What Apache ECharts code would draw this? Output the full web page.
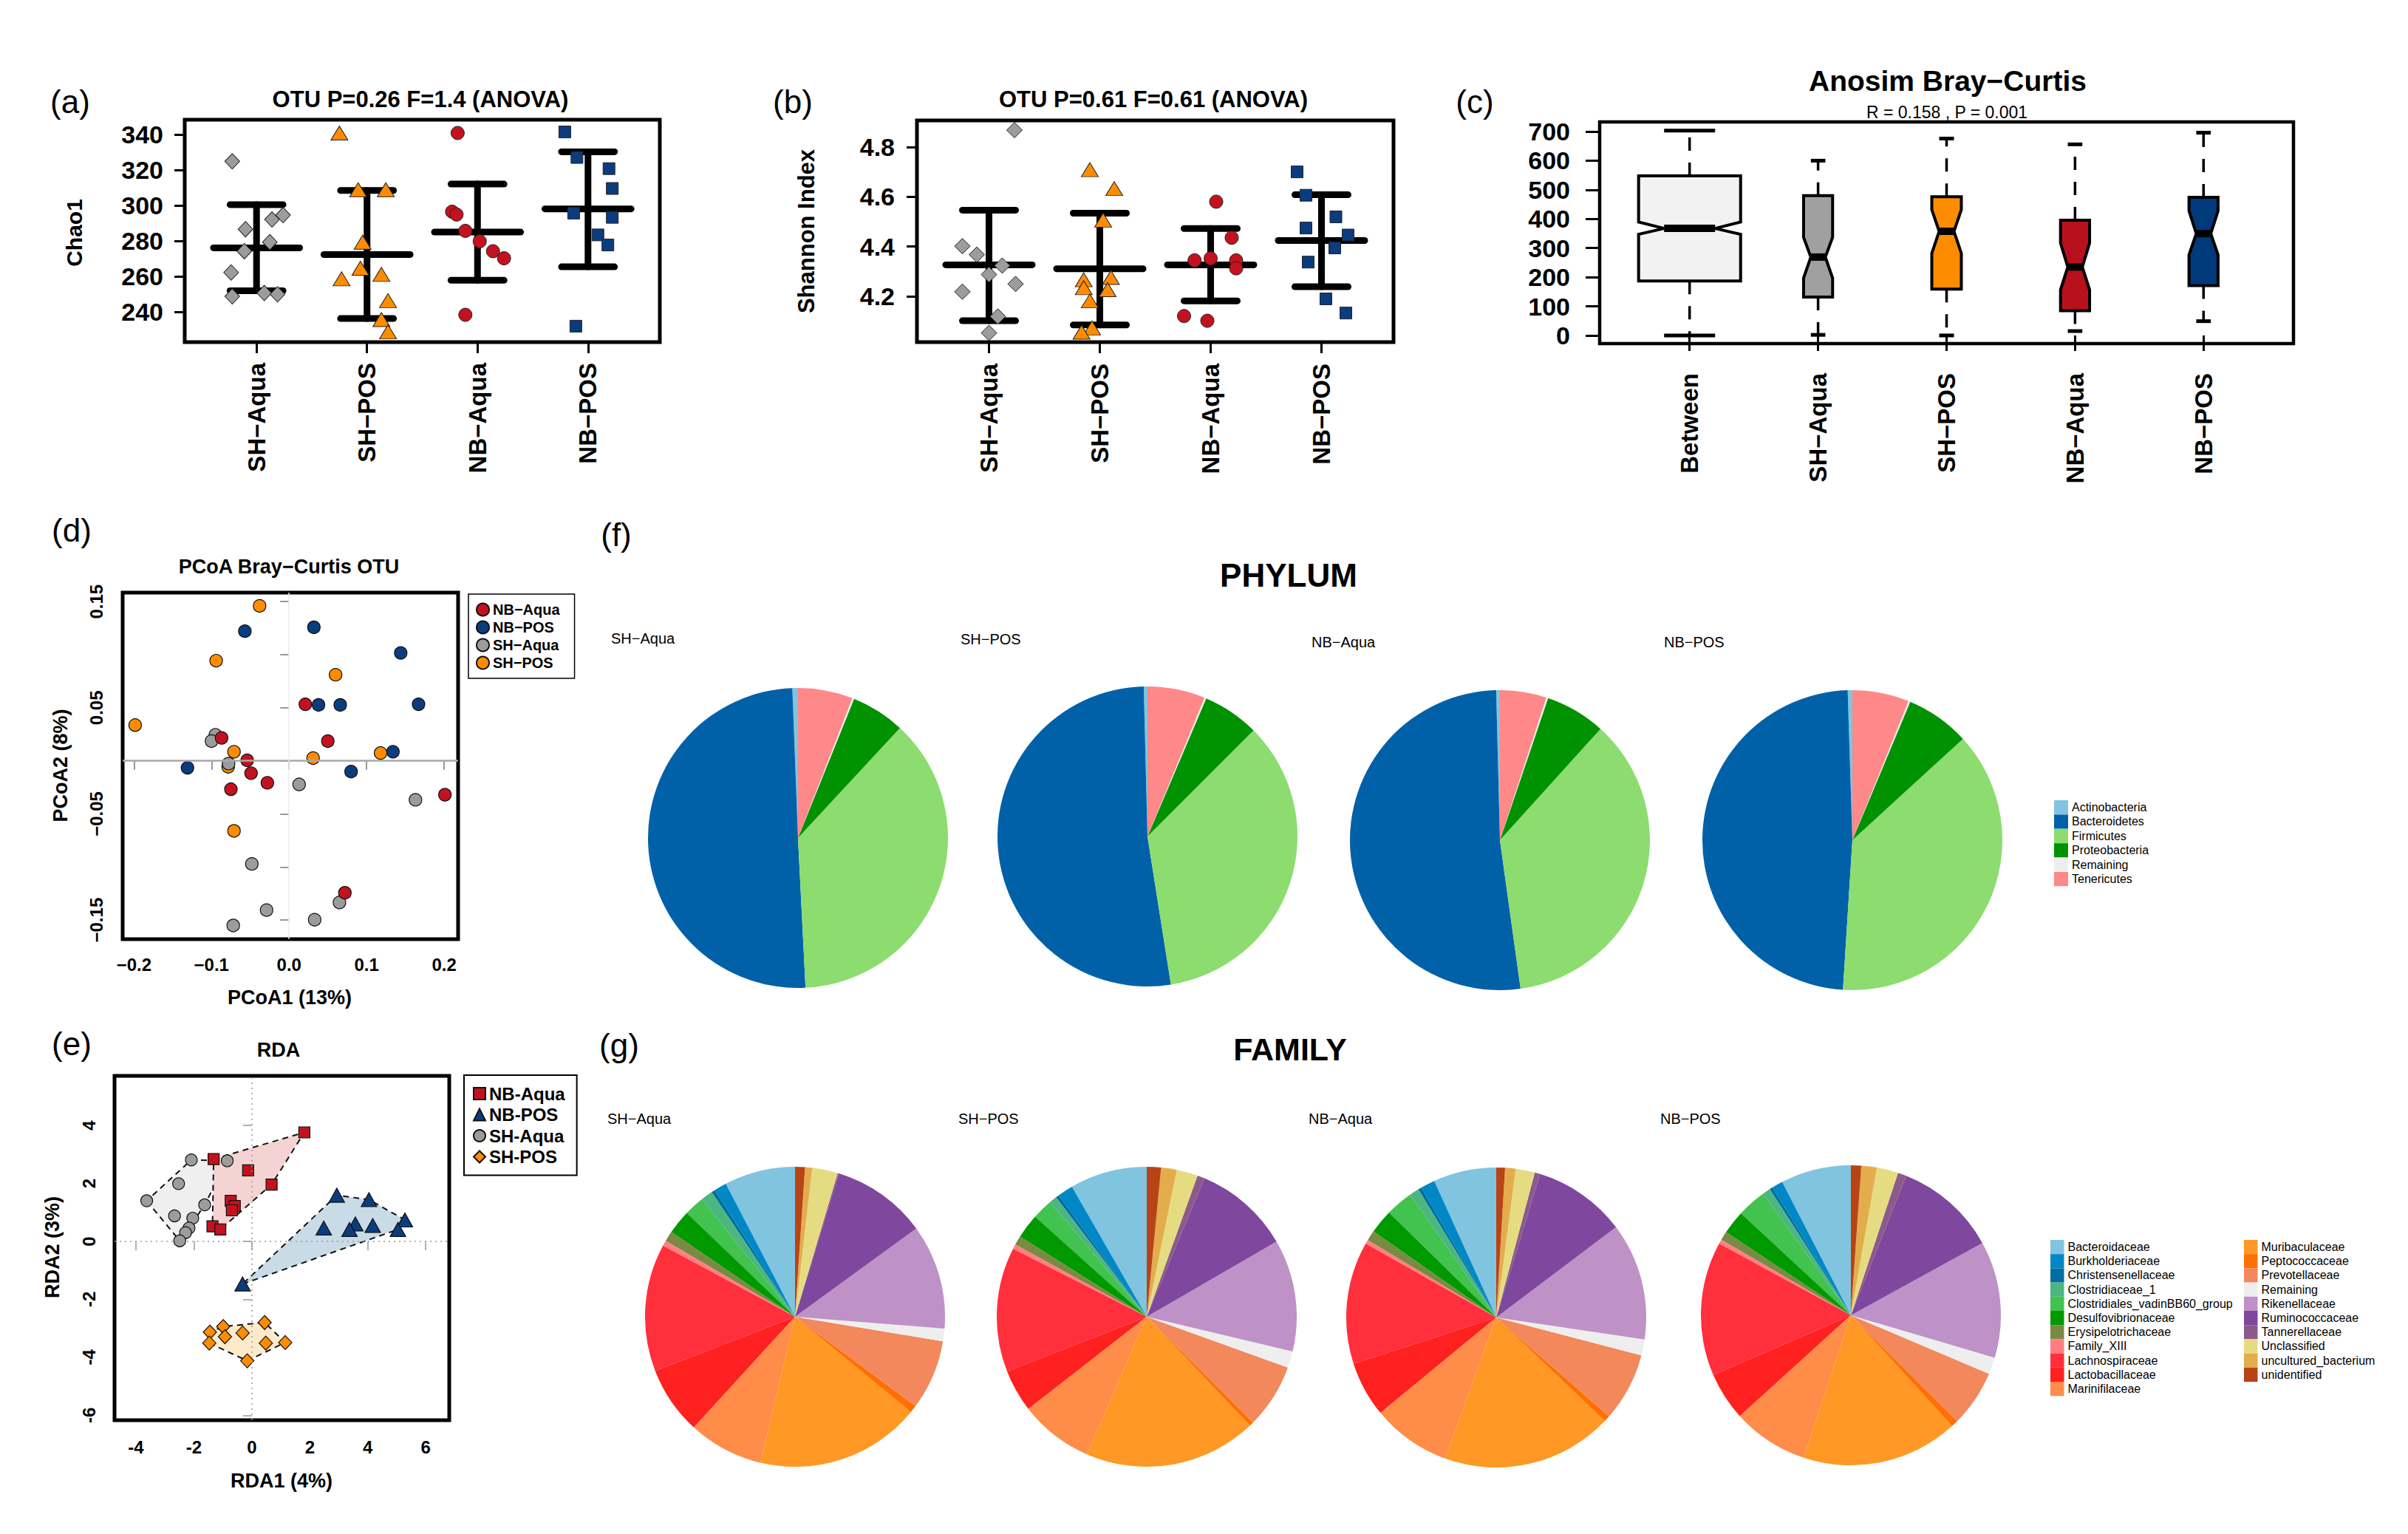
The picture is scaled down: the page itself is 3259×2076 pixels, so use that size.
<!DOCTYPE html>
<html>
<head>
<meta charset="utf-8">
<script src="https://cdn.jsdelivr.net/npm/echarts@6/dist/echarts.min.js"></script>
<style>html,body{margin:0;padding:0;background:#fff}#c{width:3259px;height:2076px}</style>
</head>
<body>
<div id="c"></div>
<script>
// ---------------- DATA ----------------
const groups = ['SH−Aqua', 'SH−POS', 'NB−Aqua', 'NB−POS'];

// (a) Chao1: [jitter offset from group position, value]
const chaoSHAqua = [[-0.22,325.0],[0.24,294.7],[0.14,292.2],[-0.10,286.7],[0.12,279.4],[-0.11,274.3],[-0.23,262.3],[-0.22,248.8],[0.07,250.7],[0.19,250.0]];
const chaoSHPOS  = [[-0.25,341.0],[-0.08,309.0],[0.17,309.0],[-0.04,279.4],[-0.06,264.7],[0.13,261.2],[-0.23,258.7],[0.19,246.4],[0.13,235.7],[0.19,228.8]];
const chaoNBAqua = [[-0.18,341.0],[-0.23,296.6],[-0.19,295.0],[-0.11,285.8],[0.02,279.9],[0.14,274.3],[0.24,270.3],[-0.11,238.4]];
const chaoNBPOS  = [[-0.21,341.6],[-0.10,327.2],[0.19,320.9],[0.22,309.7],[-0.13,295.8],[0.22,293.4],[0.09,283.5],[0.18,277.8],[-0.11,232.0]];
const chaoMean  = [276.2, 272.4, 285.1, 298.2];
const chaoLower = [252.0, 236.3, 257.9, 265.5];
const chaoUpper = [300.6, 308.6, 312.2, 330.4];
const chaoTicks = [240, 260, 280, 300, 320, 340];

// (b) Shannon
const shanSHAqua = [[0.23,4.868],[-0.24,4.401],[-0.11,4.367],[0.12,4.323],[0.0,4.287],[0.24,4.249],[-0.24,4.218],[0.08,4.118],[0.0,4.052]];
const shanSHPOS  = [[-0.09,4.709],[0.13,4.633],[0.03,4.506],[-0.145,4.266],[0.10,4.275],[-0.145,4.234],[0.07,4.226],[-0.09,4.181],[-0.07,4.072],[-0.165,4.055]];
const shanNBAqua = [[0.05,4.580],[0.19,4.435],[-0.145,4.344],[0.0,4.352],[0.23,4.344],[0.23,4.312],[-0.24,4.120],[-0.03,4.101]];
const shanNBPOS  = [[-0.22,4.700],[-0.14,4.606],[0.13,4.519],[-0.14,4.474],[0.24,4.446],[0.12,4.394],[-0.12,4.337],[0.04,4.189],[0.22,4.132]];
const shanMean  = [4.326, 4.310, 4.326, 4.424];
const shanLower = [4.101, 4.084, 4.181, 4.238];
const shanUpper = [4.546, 4.534, 4.472, 4.608];
const shanTicks = [4.2, 4.4, 4.6, 4.8];

// (c) ANOSIM notched boxplots
const anosimGroups  = ['Between', 'SH−Aqua', 'SH−POS', 'NB−Aqua', 'NB−POS'];
const anosimLow     = [0, 2, 0, 15, 49];
const anosimQ1      = [187, 132, 159, 85, 171];
const anosimMedian  = [367.5, 269, 357.5, 235, 349.5];
const anosimQ3      = [548, 480, 476, 395.5, 474];
const anosimHigh    = [703, 600, 676, 656, 696];
const anosimNotchLo = [347.5, 197, 282, 157, 277];
const anosimNotchHi = [389.5, 337, 432, 317, 427.6];
const anosimTicks   = [0, 100, 200, 300, 400, 500, 600, 700];

// (d) PCoA Bray-Curtis
const pcoaNBAqua = [[0.021,0.0533],[0.050,0.0186],[-0.087,0.0216],[-0.054,0.0005],[-0.049,-0.0116],[-0.028,-0.0207],[-0.075,-0.0267],[0.201,-0.0319],[0.072,-0.1243]];
const pcoaNBPOS  = [[-0.057,0.1222],[0.032,0.1258],[0.144,0.1017],[0.038,0.0527],[0.066,0.0527],[0.167,0.0533],[0.134,0.0086],[-0.131,-0.0065],[0.080,-0.0101]];
const pcoaSHAqua = [[-0.095,0.0246],[-0.100,0.0186],[-0.078,-0.0026],[0.013,-0.0222],[0.163,-0.0367],[-0.048,-0.0971],[0.065,-0.1334],[-0.029,-0.1406],[0.033,-0.1497],[-0.072,-0.1551]];
const pcoaSHPOS  = [[-0.038,0.146],[-0.094,0.0944],[0.060,0.0811],[-0.1985,0.0337],[-0.071,0.0086],[-0.0785,-0.0056],[0.031,0.0026],[0.118,0.0074],[-0.071,-0.066]];
const pcoaXTicks = [-0.2, -0.1, 0, 0.1, 0.2];
const pcoaYTicks = [-0.15, -0.1, -0.05, 0, 0.05, 0.1, 0.15];
const pcoaYLabels = [-0.15, -0.05, 0.05, 0.15];

// (e) RDA
const rdaNBAqua = [[1.81,3.76],[-1.32,2.84],[-0.13,2.45],[0.68,1.96],[-0.73,1.40],[-0.59,1.22],[-0.69,1.07],[-1.36,0.52],[-1.09,0.41]];
const rdaNBPOS  = [[2.93,1.59],[4.04,1.44],[5.28,0.74],[2.48,0.46],[3.57,0.60],[3.37,0.41],[4.17,0.55],[5.04,0.41],[-0.32,-1.47]];
const rdaSHAqua = [[-2.09,2.81],[-0.85,2.78],[-2.53,1.99],[-3.63,1.40],[-1.63,1.26],[-2.67,0.88],[-2.04,0.80],[-2.17,0.46],[-2.29,0.30],[-2.49,0.02]];
const rdaSHPOS  = [[0.44,-2.80],[-0.99,-2.94],[-1.45,-3.13],[-0.32,-3.16],[-0.93,-3.29],[-1.47,-3.51],[0.48,-3.51],[1.15,-3.49],[-0.16,-4.12]];
const rdaXTicks = [-4, -2, 0, 2, 4, 6];
const rdaYTicks = [-6, -4, -2, 0, 2, 4];

// (f) Phylum composition (%), order: alphabetical
const phylumNames  = ['Actinobacteria', 'Bacteroidetes', 'Firmicutes', 'Proteobacteria', 'Remaining', 'Tenericutes'];
const phylumSHAqua = [0.6, 50.2, 37.3, 5.8, 0.2, 5.9];
const phylumSHPOS  = [0.4, 52.1, 35.0, 6.1, 0.2, 6.2];
const phylumNBAqua = [0.4, 51.8, 36.1, 6.5, 0.2, 5.0];
const phylumNBPOS  = [0.5, 48.5, 37.8, 6.9, 0.2, 6.1];

// (g) Family composition (%)
const familyNames = ['Bacteroidaceae','Burkholderiaceae','Christensenellaceae','Clostridiaceae_1','Clostridiales_vadinBB60_group','Desulfovibrionaceae','Erysipelotrichaceae','Family_XIII','Lachnospiraceae','Lactobacillaceae','Marinifilaceae','Muribaculaceae','Peptococcaceae','Prevotellaceae','Remaining','Rikenellaceae','Ruminococcaceae','Tannerellaceae','Unclassified','uncultured_bacterium','unidentified'];
const familySHAqua = [7.64,1.33,0.42,1.25,2.19,2.61,1.11,0.58,13.75,7.33,8.08,17.75,0.81,7.53,1.36,11.28,10.25,0.14,2.75,0.78,1.06];
const familySHPOS  = [8.31,1.67,0.36,0.83,2.19,2.67,0.97,0.50,13.44,4.58,7.94,18.61,0.47,6.94,1.78,12.08,10.36,0.78,2.28,1.69,1.53];
const familyNBAqua = [6.78,1.56,0.36,1.03,2.94,2.61,1.08,0.44,13.19,5.97,8.50,18.42,0.67,7.39,1.72,12.61,10.00,0.58,2.06,1.14,0.94];
const familyNBPOS  = [7.58,1.19,0.33,0.86,3.14,2.56,0.94,0.47,14.44,5.22,8.17,16.89,0.75,6.08,1.81,12.56,11.00,0.92,2.31,1.67,1.11];

// ---------------- STYLES ----------------
const FONT = '"Liberation Sans", Arial, sans-serif';
const cGray = '#9c9c9c', cOrange = '#ff8c00', cRed = '#c3121f', cBlue = '#0b3c7e';
const phylumColors = ['#80c4e0','#0061a9','#8cdc70','#009200','#eeeeee','#ff8888'];
const familyColors = ['#80c4e0','#0088c6','#006ea0','#4cb680','#42c24e','#009a00','#7a8a42','#ff7f7f','#ff2f3c','#ff2020','#ff8c48','#ff9824','#ff7000','#f2885c','#eeeeee','#be92c6','#7f479e','#8c5a8a','#e5dc82','#e4ad4c','#b84416'];
const boxHalf = [0.397, 0.113, 0.115, 0.113, 0.113];
const boxFill = ['#f2f2f2', '#a0a0a0', cOrange, '#b8101c', '#003a7a'];

function grid(l, t, w, h, bw) {
  return {left: l, top: t, width: w, height: h, show: true, borderColor: '#000', borderWidth: bw,
          backgroundColor: 'rgba(0,0,0,0)', containLabel: false, outerBoundsMode: 'none'};
}
function axis(o) {
  return {
    type: 'value', gridIndex: o.g, min: o.min, max: o.max, position: o.pos,
    axisLine: {show: false}, splitLine: {show: false}, splitArea: {show: false},
    axisTick: {show: true, length: o.tickLen, customValues: o.ticks,
               lineStyle: {color: o.tickColor || '#000', width: o.tickW || 3}},
    axisLabel: {show: true, customValues: o.labels || o.ticks, margin: o.margin, rotate: o.rotate || 0,
                formatter: o.fmt, color: '#000', fontSize: o.fs, fontWeight: 'bold', fontFamily: FONT}
  };
}
const minus = s => s.replace('-', '−');

function errSeries(xi, mean, lo, hi) {
  return {
    type: 'custom', xAxisIndex: xi, yAxisIndex: xi, z: 2, silent: true,
    data: mean.map((m, i) => [i + 1, m, lo[i], hi[i]]),
    encode: {x: 0, y: 1},
    renderItem: (params, api) => {
      const x = api.value(0);
      const u = api.size([1, 0])[0];
      const pm = api.coord([x, api.value(1)]), pl = api.coord([x, api.value(2)]), ph = api.coord([x, api.value(3)]);
      const ln = (x1, y1, x2, y2) => ({type: 'line', shape: {x1, y1, x2, y2},
        style: {stroke: '#000', lineWidth: 9, lineCap: 'round', fill: null}});
      return {type: 'group', children: [
        ln(pl[0], pl[1], ph[0], ph[1]),
        ln(pl[0] - 0.24 * u, pl[1], pl[0] + 0.24 * u, pl[1]),
        ln(ph[0] - 0.24 * u, ph[1], ph[0] + 0.24 * u, ph[1]),
        ln(pm[0] - 0.39 * u, pm[1], pm[0] + 0.39 * u, pm[1])
      ]};
    }
  };
}
function jitterSeries(name, xi, gi, pts, symbol, size, color) {
  return {type: 'scatter', name, xAxisIndex: xi, yAxisIndex: xi, z: 3, silent: true,
    symbol, symbolSize: size,
    itemStyle: {color, borderColor: '#222', borderWidth: 1, opacity: 1},
    data: pts.map(p => [gi + 1 + p[0], p[1]])};
}
function ptSeries(name, idx, pts, symbol, size, color) {
  return {type: 'scatter', name, xAxisIndex: idx, yAxisIndex: idx, z: 4, silent: true,
    symbol, symbolSize: size,
    itemStyle: {color, borderColor: '#111', borderWidth: 1.2, opacity: 1},
    data: pts};
}
function convexHull(pts) {
  const p = pts.slice().sort((a, b) => a[0] - b[0] || a[1] - b[1]);
  const cross = (o, a, b) => (a[0] - o[0]) * (b[1] - o[1]) - (a[1] - o[1]) * (b[0] - o[0]);
  const lower = [], upper = [];
  for (const q of p) { while (lower.length >= 2 && cross(lower[lower.length - 2], lower[lower.length - 1], q) <= 0) lower.pop(); lower.push(q); }
  for (let i = p.length - 1; i >= 0; i--) { const q = p[i]; while (upper.length >= 2 && cross(upper[upper.length - 2], upper[upper.length - 1], q) <= 0) upper.pop(); upper.push(q); }
  upper.pop(); lower.pop();
  return lower.concat(upper);
}
const rdaSets = [rdaSHAqua, rdaNBAqua, rdaNBPOS, rdaSHPOS];
const hullFill = ['#efefef', '#f6d3d3', '#c9dbe7', '#fdeacb'];
const hulls = rdaSets.map(convexHull);

function pieSeries(names, values, colors, center) {
  return {type: 'pie', center, radius: 203, startAngle: 90, clockwise: false, silent: true,
    avoidLabelOverlap: false, label: {show: false}, labelLine: {show: false},
    emphasis: {disabled: true, scale: false}, selectedMode: false, padAngle: 0, minAngle: 0,
    itemStyle: {borderWidth: 0},
    data: names.map((n, i) => ({name: n, value: values[i], itemStyle: {color: colors[i]}}))};
}

function txt(text, x, y, font, opt) {
  opt = opt || {};
  return {type: 'text', x, y, rotation: opt.rot || 0, silent: true,
    style: {text, font, fill: '#000', textAlign: opt.align || 'center', textVerticalAlign: 'middle',
            align: opt.align || 'center', verticalAlign: 'middle'}};
}
const B = s => 'bold ' + s + 'px ' + FONT;
const N = s => s + 'px ' + FONT;

const option = {
  animation: false,
  backgroundColor: '#fff',
  textStyle: {fontFamily: FONT},
  grid: [
    grid(250, 162, 643, 301, 5),
    grid(1241, 163, 645, 300, 5),
    grid(2165, 165, 939, 300, 4.5),
    grid(166, 802, 454, 469, 5),
    grid(155, 1456, 453, 466, 5)
  ],
  xAxis: [
    axis({g: 0, min: 0.35, max: 4.65, pos: 'bottom', ticks: [1, 2, 3, 4], tickLen: 15, margin: 28, rotate: 90, fs: 33,
          fmt: v => groups[Math.round(v) - 1]}),
    axis({g: 1, min: 0.35, max: 4.65, pos: 'bottom', ticks: [1, 2, 3, 4], tickLen: 15, margin: 29, rotate: 90, fs: 33,
          fmt: v => groups[Math.round(v) - 1]}),
    axis({g: 2, min: 0.3, max: 5.7, pos: 'bottom', ticks: [1, 2, 3, 4, 5], tickLen: 21, margin: 40, rotate: 90, fs: 33,
          fmt: v => anosimGroups[Math.round(v) - 1]}),
    axis({g: 3, min: -0.2146, max: 0.218, pos: 'bottom', ticks: pcoaXTicks, tickLen: 12, tickW: 1.5, tickColor: '#777',
          margin: 22, fs: 24, fmt: v => minus(v.toFixed(1))}),
    axis({g: 4, min: -4.74, max: 6.81, pos: 'bottom', ticks: rdaXTicks, tickLen: 12, tickW: 1.5, tickColor: '#999',
          margin: 24, fs: 24, fmt: v => String(v)})
  ],
  yAxis: [
    axis({g: 0, min: 223, max: 348.5, pos: 'left', ticks: chaoTicks, tickLen: 14, margin: 29, fs: 34, fmt: v => String(v)}),
    axis({g: 1, min: 4.015, max: 4.907, pos: 'left', ticks: shanTicks, tickLen: 14, margin: 30, fs: 34, fmt: v => v.toFixed(1)}),
    axis({g: 2, min: -28, max: 733, pos: 'left', ticks: anosimTicks, tickLen: 19, margin: 40, fs: 34, fmt: v => String(v)}),
    axis({g: 3, min: -0.168, max: 0.1585, pos: 'left', ticks: pcoaYTicks, labels: pcoaYLabels, tickLen: 12, tickW: 1.5,
          tickColor: '#777', margin: 24, rotate: 90, fs: 24, fmt: v => minus(v.toFixed(2))}),
    axis({g: 4, min: -6.17, max: 5.71, pos: 'left', ticks: rdaYTicks, tickLen: 12, tickW: 1.5, tickColor: '#999',
          margin: 23, rotate: 90, fs: 24, fmt: v => String(v)})
  ],
  legend: [
    {show: true, orient: 'vertical', left: 634, top: 804, padding: [11, 20, 11, 10], itemGap: 4,
     itemWidth: 17, itemHeight: 17, borderColor: '#000', borderWidth: 1.5, selectedMode: false,
     data: ['NB−Aqua', 'NB−POS', 'SH−Aqua', 'SH−POS'],
     textStyle: {fontSize: 20, fontWeight: 'bold', color: '#000', fontFamily: FONT, lineHeight: 20}},
    {show: true, orient: 'vertical', left: 628, top: 1455, padding: [13, 16, 13, 12], itemGap: 4.5,
     itemWidth: 16, itemHeight: 16, borderColor: '#000', borderWidth: 2, selectedMode: false,
     data: ['NB-Aqua', 'NB-POS', 'SH-Aqua', 'SH-POS'],
     textStyle: {fontSize: 24, fontWeight: 'bold', color: '#000', fontFamily: FONT, lineHeight: 24}},
    {show: true, orient: 'vertical', left: 2780, top: 1083, padding: 0, itemGap: 0.2, itemWidth: 19, itemHeight: 19.2,
     icon: 'rect', selectedMode: false, data: phylumNames,
     textStyle: {fontSize: 16, color: '#000', fontFamily: FONT, lineHeight: 19}},
    {show: true, orient: 'vertical', left: 2775, top: 1678, padding: 0, itemGap: 0, itemWidth: 18.5, itemHeight: 19.2,
     icon: 'rect', selectedMode: false, data: familyNames.slice(0, 11),
     textStyle: {fontSize: 16, color: '#000', fontFamily: FONT, lineHeight: 19}},
    {show: true, orient: 'vertical', left: 3037, top: 1678, padding: 0, itemGap: 0, itemWidth: 18.5, itemHeight: 19.2,
     icon: 'rect', selectedMode: false, data: familyNames.slice(11),
     textStyle: {fontSize: 16, color: '#000', fontFamily: FONT, lineHeight: 19}}
  ],
  series: [
    // (a)
    errSeries(0, chaoMean, chaoLower, chaoUpper),
    jitterSeries('a1', 0, 0, chaoSHAqua, 'diamond', [20, 21], cGray),
    jitterSeries('a2', 0, 1, chaoSHPOS, 'triangle', [23, 19], cOrange),
    jitterSeries('a3', 0, 2, chaoNBAqua, 'circle', 18, cRed),
    jitterSeries('a4', 0, 3, chaoNBPOS, 'rect', 16, cBlue),
    // (b)
    errSeries(1, shanMean, shanLower, shanUpper),
    jitterSeries('b1', 1, 0, shanSHAqua, 'diamond', [21, 21], cGray),
    jitterSeries('b2', 1, 1, shanSHPOS, 'triangle', [23, 19], cOrange),
    jitterSeries('b3', 1, 2, shanNBAqua, 'circle', 18, cRed),
    jitterSeries('b4', 1, 3, shanNBPOS, 'rect', 16, cBlue),
    // (c)
    {
      type: 'custom', xAxisIndex: 2, yAxisIndex: 2, silent: true, z: 3,
      data: anosimGroups.map((g, i) => [i + 1, anosimLow[i], anosimQ1[i], anosimMedian[i], anosimQ3[i], anosimHigh[i], anosimNotchLo[i], anosimNotchHi[i]]),
      encode: {x: 0, y: 3},
      renderItem: (params, api) => {
        const i = params.dataIndex, x = api.value(0);
        const u = api.size([1, 0])[0];
        const hw = boxHalf[i] * u;
        const Y = k => api.coord([x, api.value(k)])[1];
        const cx = api.coord([x, 0])[0];
        const yLow = Y(1), yQ1 = Y(2), yMed = Y(3), yQ3 = Y(4), yHigh = Y(5), yNlo = Y(6), yNhi = Y(7);
        const dash = {stroke: '#000', lineWidth: 3.5, lineDash: [18, 16], fill: null};
        const solid = w => ({stroke: '#000', lineWidth: w, fill: null, lineCap: 'butt'});
        return {type: 'group', children: [
          {type: 'line', shape: {x1: cx, y1: yQ3, x2: cx, y2: yHigh}, style: dash},
          {type: 'line', shape: {x1: cx, y1: yQ1, x2: cx, y2: yLow}, style: Object.assign({}, dash)},
          {type: 'line', shape: {x1: cx - hw * 0.5, y1: yHigh, x2: cx + hw * 0.5, y2: yHigh}, style: solid(5)},
          {type: 'line', shape: {x1: cx - hw * 0.5, y1: yLow, x2: cx + hw * 0.5, y2: yLow}, style: solid(5)},
          {type: 'polygon', shape: {points: [
            [cx - hw, yQ1], [cx - hw, yNlo], [cx - hw * 0.5, yMed], [cx - hw, yNhi], [cx - hw, yQ3],
            [cx + hw, yQ3], [cx + hw, yNhi], [cx + hw * 0.5, yMed], [cx + hw, yNlo], [cx + hw, yQ1]]},
           style: {fill: boxFill[i], stroke: '#000', lineWidth: 4, lineJoin: 'miter'}},
          {type: 'line', shape: {x1: cx - hw * 0.5, y1: yMed, x2: cx + hw * 0.5, y2: yMed}, style: solid(10)}
        ]};
      }
    },
    // (d)
    Object.assign(ptSeries('SH−POS', 3, pcoaSHPOS, 'circle', 17, cOrange), {
      markLine: {silent: true, symbol: 'none', label: {show: false}, animation: false,
        data: [{yAxis: 0, lineStyle: {color: '#a8a8a8', width: 2.5, type: 'solid'}},
               {xAxis: 0, lineStyle: {color: '#ececec', width: 1.5, type: 'solid'}}]}
    }),
    ptSeries('SH−Aqua', 3, pcoaSHAqua, 'circle', 17, cGray),
    ptSeries('NB−POS', 3, pcoaNBPOS, 'circle', 17, cBlue),
    ptSeries('NB−Aqua', 3, pcoaNBAqua, 'circle', 17, cRed),
    // (e) hulls
    {
      type: 'custom', xAxisIndex: 4, yAxisIndex: 4, silent: true, z: 2,
      data: hulls.map((h, i) => [h[0][0], h[0][1]]),
      encode: {x: 0, y: 1},
      renderItem: (params, api) => {
        const pts = hulls[params.dataIndex].map(p => api.coord(p));
        return {type: 'polygon', shape: {points: pts},
          style: {fill: hullFill[params.dataIndex], stroke: '#111', lineWidth: 2, lineDash: [8, 6]}};
      },
      markLine: {silent: true, symbol: 'none', label: {show: false}, animation: false,
        data: [{yAxis: 0, lineStyle: {color: '#9a9a9a', width: 1.5, type: [2, 5]}},
               {xAxis: 0, lineStyle: {color: '#9a9a9a', width: 1.5, type: [2, 5]}}]}
    },
    ptSeries('SH-Aqua', 4, rdaSHAqua, 'circle', 16, cGray),
    ptSeries('NB-Aqua', 4, rdaNBAqua, 'rect', 15, cRed),
    ptSeries('NB-POS', 4, rdaNBPOS, 'triangle', [21, 19], cBlue),
    ptSeries('SH-POS', 4, rdaSHPOS, 'diamond', [18, 19], cOrange),
    // (f)
    pieSeries(phylumNames, phylumSHAqua, phylumColors, [1080, 1134]),
    pieSeries(phylumNames, phylumSHPOS, phylumColors, [1553, 1132]),
    pieSeries(phylumNames, phylumNBAqua, phylumColors, [2030, 1137]),
    pieSeries(phylumNames, phylumNBPOS, phylumColors, [2507, 1137]),
    // (g)
    pieSeries(familyNames, familySHAqua, familyColors, [1076, 1782]),
    pieSeries(familyNames, familySHPOS, familyColors, [1552, 1782]),
    pieSeries(familyNames, familyNBAqua, familyColors, [2025, 1783]),
    pieSeries(familyNames, familyNBPOS, familyColors, [2505, 1780])
  ],
  graphic: [
    txt('(a)', 95, 137, N(44)),
    txt('OTU P=0.26 F=1.4 (ANOVA)', 569, 134, B(31)),
    txt('Chao1', 100, 315, B(30), {rot: Math.PI / 2}),
    txt('(b)', 1073, 137, N(44)),
    txt('OTU P=0.61 F=0.61 (ANOVA)', 1561, 134, B(31)),
    txt('Shannon Index', 1091, 313, B(31), {rot: Math.PI / 2}),
    txt('(c)', 1996, 137, N(44)),
    txt('Anosim Bray−Curtis', 2636, 109, B(39)),
    txt('R = 0.158 , P = 0.001', 2635, 152, N(23)),
    txt('(d)', 97, 717, N(44)),
    txt('PCoA Bray−Curtis OTU', 391, 767, B(27)),
    txt('PCoA1 (13%)', 392, 1350, B(27)),
    txt('PCoA2 (8%)', 82, 1036, B(27), {rot: Math.PI / 2}),
    txt('(e)', 97, 1412, N(44)),
    txt('RDA', 377, 1421, B(27)),
    txt('RDA1 (4%)', 381, 2004, B(27)),
    txt('RDA2 (3%)', 71, 1688, B(27), {rot: Math.PI / 2}),
    txt('(f)', 834, 723, N(44)),
    txt('(g)', 838, 1414, N(44)),
    txt('PHYLUM', 1744, 778, B(44)),
    txt('FAMILY', 1746, 1420, B(43)),
    txt('SH−Aqua', 827, 864, N(20), {align: 'left'}),
    txt('SH−POS', 1300, 865, N(20), {align: 'left'}),
    txt('NB−Aqua', 1775, 869, N(20), {align: 'left'}),
    txt('NB−POS', 2252, 869, N(20), {align: 'left'}),
    txt('SH−Aqua', 822, 1514, N(20), {align: 'left'}),
    txt('SH−POS', 1297, 1514, N(20), {align: 'left'}),
    txt('NB−Aqua', 1771, 1514, N(20), {align: 'left'}),
    txt('NB−POS', 2247, 1514, N(20), {align: 'left'})
  ]
};

const chart = echarts.init(document.getElementById('c'), null, {renderer: 'svg', width: 3259, height: 2076});
chart.setOption(option);
</script>
</body>
</html>
